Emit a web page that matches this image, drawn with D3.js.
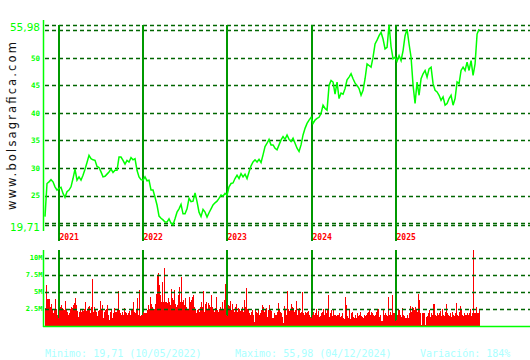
<!DOCTYPE html>
<html>
<head>
<meta charset="utf-8">
<script src="https://cdn.jsdelivr.net/npm/d3@7"></script>
<style>
  body { margin: 0; background: #fff; }
  svg { display: block; }
</style>
</head>
<body>
<div id="chart"></div>
<script>
// price, sampled evenly between priceStart and priceEnd
const priceValues = [
    21.2, 27.2, 27.5, 27.9, 27.5, 26.6, 26.0, 26.3, 26.5, 25.4,
    24.7, 25.7, 26.0, 26.6, 28.1, 29.8, 27.8, 28.4, 27.8, 28.7,
    29.8, 31.0, 32.3, 31.7, 31.5, 31.4, 30.3, 30.1, 29.3, 28.4,
    28.5, 28.9, 29.3, 29.8, 29.2, 29.6, 29.6, 32.0, 32.0, 31.4,
    30.7, 31.4, 31.1, 31.9, 31.5, 31.7, 29.6, 28.4, 27.9, 27.8,
    28.4, 27.7, 27.8, 26.0, 26.0, 24.7, 23.3, 21.3, 20.9, 20.6,
    20.2, 20.2, 20.8, 20.0, 19.71, 20.8, 22.0, 22.6, 23.4, 21.7,
    21.7, 22.6, 24.5, 23.9, 24.0, 25.5, 23.9, 22.0, 21.2, 22.5,
    22.0, 21.1, 21.9, 22.6, 23.3, 23.7, 24.0, 24.5, 25.1, 24.9,
    25.4, 25.1, 26.6, 27.2, 27.3, 28.1, 28.7, 28.1, 29.0, 28.4,
    28.9, 28.1, 29.3, 30.4, 31.1, 31.5, 31.1, 31.6, 31.0, 32.4,
    33.9, 34.5, 35.2, 34.2, 34.2, 33.6, 33.3, 34.2, 35.1, 35.7,
    35.2, 36.0, 35.2, 34.8, 35.4, 34.5, 33.6, 33.0, 34.2, 36.0,
    37.2, 38.1, 38.7, 39.2, 38.1, 38.7, 39.0, 39.2, 39.9, 41.4,
    40.8, 40.5, 45.0, 45.9, 45.6, 43.4, 45.6, 42.6, 43.6, 43.4,
    44.4, 46.0, 46.5, 47.1, 46.2, 45.4, 45.0, 44.4, 43.2, 44.1,
    46.2, 48.9, 48.6, 48.3, 50.1, 52.5, 53.2, 54.0, 54.6, 53.4,
    51.6, 51.9, 55.98, 52.0, 49.8, 50.1, 49.4, 50.4, 49.5, 51.3,
    54.0, 55.2, 52.5, 50.1, 45.0, 41.7, 45.6, 43.2, 46.2, 47.1,
    47.7, 46.5, 48.0, 48.3, 45.3, 44.1, 43.8, 43.2, 42.3, 42.9,
    41.4, 41.7, 42.6, 43.2, 41.4, 42.6, 45.6, 45.3, 47.7, 48.3,
    47.7, 49.2, 47.7, 49.5, 46.8, 48.9, 54.3, 55.2
];
// volume in millions, one bar per slot between axisStart and axisEnd
const volumeValues = [
    2.6, 6.0, 3.9, 3.9, 3.9, 2.75, 3.1, 2.5, 1.8, 2.5,
    3.9, 2.5, 1.6, 1.15, 2.4, 2.75, 3.0, 2.6, 2.5, 2.25,
    3.6, 2.25, 2.0, 1.6, 1.8, 2.5, 2.75, 2.6, 3.0, 3.25,
    4.1, 3.0, 2.1, 1.3, 2.0, 2.25, 2.0, 2.25, 2.1, 2.5,
    3.5, 2.2, 2.5, 2.7, 2.85, 1.8, 2.75, 6.85, 2.0, 2.75,
    2.5, 2.0, 1.45, 2.1, 2.25, 3.6, 2.5, 3.0, 1.15, 2.0,
    2.25, 2.5, 3.0, 1.6, 0.8, 2.0, 2.25, 1.15, 1.8, 2.6,
    2.0, 2.0, 2.25, 5.1, 2.25, 1.8, 1.5, 2.0, 1.6, 2.6,
    2.0, 1.8, 1.5, 1.8, 2.1, 1.5, 2.25, 2.5, 3.5, 2.0,
    1.8, 2.5, 4.0, 1.6, 5.2, 1.45, 1.5, 1.6, 2.0, 1.9,
    1.9, 1.8, 2.25, 3.0, 2.5, 4.25, 3.1, 2.75, 2.4, 2.5,
    3.1, 4.6, 7.45, 7.7, 6.0, 4.5, 3.5, 6.45, 3.5, 8.4,
    3.5, 3.4, 3.25, 4.1, 3.5, 3.0, 5.4, 4.0, 3.75, 5.2,
    3.1, 2.75, 3.0, 4.5, 5.7, 3.5, 7.2, 3.5, 3.75, 3.0,
    4.0, 2.75, 2.25, 2.5, 4.25, 3.5,
    3.75, 4.25, 4.5, 2.75, 2.5, 1.8, 2.25, 2.4, 2.0, 2.75,
    3.5, 2.75, 5.1, 2.0, 3.1, 3.4, 2.25, 3.25, 3.0, 2.75,
    4.5, 2.75, 2.25, 2.0, 2.6, 4.25, 2.25, 2.0, 2.5, 2.75,
    2.5, 3.4, 2.4, 3.75, 6.1, 1.5, 1.45, 3.0, 2.9, 3.6,
    2.25, 3.1, 2.5, 2.0, 2.75, 3.1, 2.0, 2.6, 2.4, 2.1,
    2.4, 2.75, 2.0, 3.75, 2.75, 5.55, 2.5, 2.25, 1.8, 1.6,
    2.0, 2.25, 1.6, 0.45, 2.25, 2.0, 1.8, 2.5, 1.5, 1.8,
    2.25, 3.0, 2.75, 2.0, 2.25, 2.6, 1.3, 2.25, 3.0, 2.5,
    2.1, 1.05, 1.15, 1.8, 1.6, 1.6, 2.0, 3.25, 2.25, 2.0,
    1.8, 1.3, 0.3, 2.9, 2.25, 1.5, 5.1, 2.5, 2.1, 2.4,
    3.1, 2.75, 2.6, 2.0, 2.25, 3.6, 1.5, 2.4, 2.6, 1.8,
    2.0, 5.0, 1.8, 1.5, 2.0, 1.8, 2.0, 2.1, 1.6, 1.3,
    1.15, 1.5, 2.0, 1.5, 1.8, 2.4, 1.5, 2.1, 1.3, 1.45,
    1.8, 2.0, 2.5, 1.5, 2.25, 1.8, 2.5, 4.5, 1.3, 1.8,
    2.25, 1.45, 2.25, 1.5,
    1.5, 1.45, 1.5, 1.5, 1.9, 1.3, 1.45, 1.8, 1.15, 0.95,
    4.25, 3.0, 1.45, 1.15, 2.25, 0.95, 1.8, 2.0, 1.3, 1.15,
    1.5, 1.15, 1.8, 1.45, 1.5, 2.0, 1.45, 1.3, 1.15, 1.5,
    1.45, 1.5, 1.8, 2.0, 2.25, 1.5, 2.0, 1.8, 1.6, 1.45,
    1.6, 2.0, 2.25, 2.4, 1.3, 1.5, 0.65, 0.65, 2.25, 1.6,
    1.8, 1.5, 1.45, 4.25, 1.5, 2.0, 1.5, 4.5, 1.8, 1.8,
    0.65, 0.8, 1.5, 2.25, 2.25, 1.5, 1.3, 2.6, 1.5, 1.45,
    1.15, 1.15, 1.6, 1.05, 1.8, 2.9, 2.0, 2.75, 2.6, 2.25,
    2.75, 2.5, 2.0, 4.6, 3.75, 1.8, 0.05, 1.8, 1.8, 1.8,
    0.05, 1.3, 1.45, 1.8, 2.25, 1.3, 1.8, 1.5, 3.1, 3.1,
    1.5, 1.45, 1.8, 1.5, 1.8, 2.1, 1.45, 2.5, 1.6, 1.45,
    2.0, 3.1, 1.8, 1.6, 1.45, 1.8, 1.3, 2.0, 1.5, 1.45,
    1.8, 3.25, 1.5, 1.45, 2.0, 2.85, 2.25, 1.5, 1.45, 1.8,
    1.5, 1.6, 1.8, 1.5, 1.8, 2.5, 1.45, 1.8, 11.1, 1.8,
    1.8, 2.75, 1.8, 1.8, 2.5
];
const priceStart = "2020-11-01", priceEnd = "2025-12-27";
const axisStart = "2020-11-01", axisEnd = "2025-12-31";
const years = [2021, 2022, 2023, 2024, 2025];
const priceMin = 19.71, priceMax = 55.98;
const extremeLabels = ["19,71", "55,98"];
const priceGrid = [20, 25, 30, 35, 40, 45, 50, 55];
const priceLabels = [25, 30, 35, 40, 45, 50];
const volumeTicks = [2.5, 5, 7.5, 10];
const volumeLabels = ["2.5M", "5M", "7.5M", "10M"];
const stats = ["Minimo: 19,71 (10/05/2022)", "Maximo: 55,98 (04/12/2024)", "Variación: 184%"];

const width = 530, height = 360;
const green = "#00ff00", gridGreen = "#006600", yearGreen = "#009900";
const parse = d3.timeParse("%Y-%m-%d");

const svg = d3.select("#chart").append("svg")
    .attr("width", width)
    .attr("height", height)
    .style("background", "#fff");

//x scale shared by both panels
const x = d3.scaleTime()
    .domain([parse(axisStart), parse(axisEnd)])
    .range([45, 480]);
const priceDate = d3.scaleLinear()
    .domain([0, priceValues.length - 1])
    .range([parse(priceStart), parse(priceEnd)]);

const y = d3.scaleLinear()
    .domain([priceMin, priceMax])
    .range([224.8, 24.8]);
const yv = d3.scaleLinear()
    .domain([0, 10])
    .range([325.5, 257.5]);
const band = d3.scaleBand()
    .domain(d3.range(volumeValues.length))
    .range([x.range()[0], x.range()[1]])
    .padding(0);

const yearX = d => Math.round(x(new Date(d, 0, 1)));

//---------------- price panel ----------------
svg.append("g")
    .selectAll("line")
    .data([priceMin].concat(priceGrid, [priceMax]))
    .join("line")
    .attr("x1", 45).attr("x2", width)
    .attr("y1", d => Math.round(y(d)) + 0.5)
    .attr("y2", d => Math.round(y(d)) + 0.5)
    .attr("stroke", gridGreen)
    .attr("stroke-width", 1.5)
    .attr("stroke-dasharray", "4,3");

svg.append("g")
    .selectAll("line")
    .data(years)
    .join("line")
    .attr("x1", yearX).attr("x2", yearX)
    .attr("y1", 25).attr("y2", 241)
    .attr("stroke", yearGreen)
    .attr("stroke-width", 2);

svg.append("line")
    .attr("x1", 43.5).attr("x2", 43.5)
    .attr("y1", 20).attr("y2", 231)
    .attr("stroke", green)
    .attr("stroke-width", 1.5);

const line = d3.line()
    .x((d, i) => x(priceDate(i)))
    .y(d => y(d));
svg.append("path")
    .datum(priceValues)
    .attr("fill", "none")
    .attr("stroke", green)
    .attr("stroke-width", 1.5)
    .attr("d", line);

svg.append("g")
    .selectAll("text")
    .data(priceLabels)
    .join("text")
    .attr("x", 40)
    .attr("y", d => y(d) + 2.8)
    .attr("text-anchor", "end")
    .attr("fill", green)
    .style("font", "bold 7.5px 'DejaVu Sans Mono'")
    .text(d => d);

svg.append("g")
    .selectAll("text")
    .data([priceMin, priceMax])
    .join("text")
    .attr("x", 40)
    .attr("y", d => y(d) + 5.8)
    .attr("text-anchor", "end")
    .attr("fill", green)
    .style("font", "10.5px 'DejaVu Sans'")
    .text((d, i) => extremeLabels[i]);

svg.append("g")
    .selectAll("text")
    .data(years)
    .join("text")
    .attr("x", d => yearX(d) + 0.5)
    .attr("y", 239.5)
    .attr("fill", "#ff0000")
    .attr("textLength", 19.5)
    .attr("lengthAdjust", "spacingAndGlyphs")
    .style("font", "bold 9.5px 'DejaVu Sans Mono'")
    .text(d => d);

svg.append("text")
    .attr("transform", "translate(15.5,126) rotate(-90)")
    .attr("text-anchor", "middle")
    .attr("fill", "#111")
    .attr("textLength", 168)
    .attr("lengthAdjust", "spacing")
    .style("font", "11.5px 'DejaVu Sans'")
    .text("www.bolsagrafica.com");

//---------------- volume panel ----------------
svg.append("g")
    .selectAll("line")
    .data(years)
    .join("line")
    .attr("x1", yearX).attr("x2", yearX)
    .attr("y1", 250).attr("y2", 326)
    .attr("stroke", yearGreen)
    .attr("stroke-width", 2);

svg.append("g")
    .attr("shape-rendering", "crispEdges")
    .selectAll("rect")
    .data(volumeValues)
    .join("rect")
    .attr("x", (d, i) => band(i))
    .attr("width", band.bandwidth())
    .attr("y", d => yv(d))
    .attr("height", d => yv(0) - yv(d))
    .attr("fill", "#ff0000");

svg.append("g")
    .selectAll("line")
    .data(volumeTicks)
    .join("line")
    .attr("x1", 45).attr("x2", width)
    .attr("y1", d => Math.round(yv(d)) + 0.5)
    .attr("y2", d => Math.round(yv(d)) + 0.5)
    .attr("stroke", gridGreen)
    .attr("stroke-width", 1.5)
    .attr("stroke-dasharray", "4,3");

svg.append("g")
    .selectAll("text")
    .data(volumeTicks)
    .join("text")
    .attr("x", 42.5)
    .attr("y", d => yv(d) + 2.6)
    .attr("text-anchor", "end")
    .attr("fill", green)
    .style("font", "bold 7px 'DejaVu Sans Mono'")
    .text((d, i) => volumeLabels[i]);

svg.append("line")
    .attr("x1", 43.5).attr("x2", 43.5)
    .attr("y1", 250).attr("y2", 327)
    .attr("stroke", green)
    .attr("stroke-width", 1.5);
svg.append("line")
    .attr("x1", 43).attr("x2", width)
    .attr("y1", 326.5).attr("y2", 326.5)
    .attr("stroke", green)
    .attr("stroke-width", 1.5);

//---------------- footer ----------------
svg.append("g")
    .selectAll("text")
    .data(stats)
    .join("text")
    .attr("x", (d, i) => [45, 235, 420][i])
    .attr("y", 357)
    .attr("fill", "#aaffff")
    .style("font", "10px 'DejaVu Sans Mono'")
    .text(d => d);
</script>
</body>
</html>
